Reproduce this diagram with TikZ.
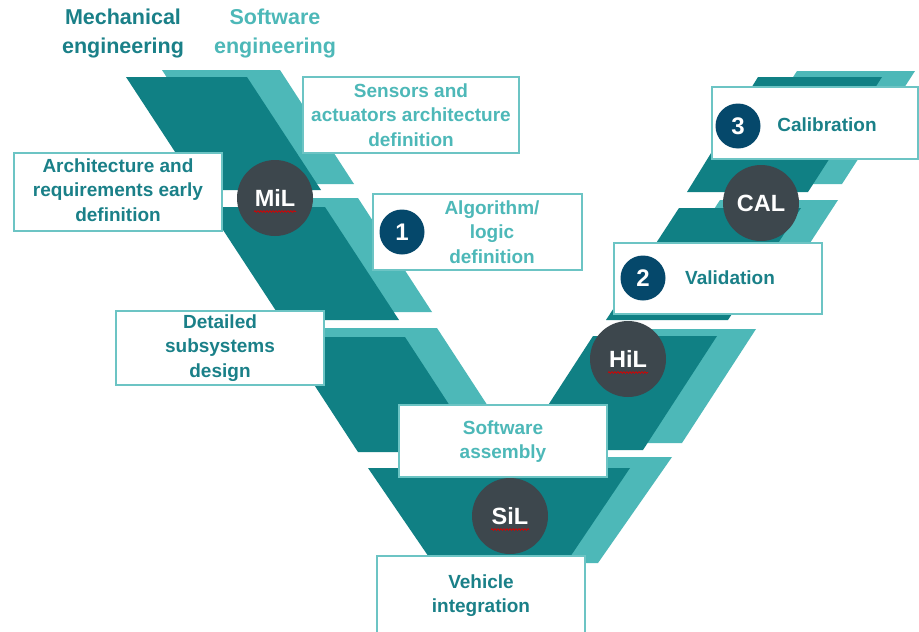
\documentclass[tikz,border=0pt]{standalone}
\usepackage{fontspec}
\setmainfont{Liberation Sans}
\usetikzlibrary{decorations.pathmorphing}
\definecolor{darkteal}{HTML}{108084}
\definecolor{lightteal}{HTML}{4DB8B8}
\definecolor{boxline}{HTML}{6CC4C4}
\definecolor{stagegray}{HTML}{3D474D}
\definecolor{navy}{HTML}{05486B}
\definecolor{darktext}{HTML}{1A8088}
\definecolor{lighttext}{HTML}{4DB8B8}
\begin{document}
\begin{tikzpicture}[x=1pt,y=-1pt,
  darkband/.style={fill=darkteal},
  lightband/.style={fill=lightteal},
  box/.style={draw=boxline, line width=1.3pt, fill=white, rectangle, inner sep=0pt},
  boxtext/.style={font=\bfseries\fontsize{19}{24.5}\selectfont, align=center, inner sep=0pt},
  headtext/.style={font=\bfseries\fontsize{21.5}{29}\selectfont, align=center, inner sep=0pt},
  stage/.style={circle, fill=stagegray, minimum size=76pt, inner sep=0pt, text=white, font=\bfseries\fontsize{23.5}{24}\selectfont},
  num/.style={circle, fill=navy, minimum size=45pt, inner sep=0pt, text=white, font=\bfseries\fontsize{24}{24}\selectfont},
  spell/.style={draw=red!85!black, line width=0.7pt, decorate, decoration={snake, amplitude=0.9pt, segment length=3pt}}
]
\useasboundingbox (0,0) rectangle (919,632);
\fill[white] (0,0) rectangle (919,632);

% ---- light bands (behind)
\fill[lightband] (162,70) -- (280,70) -- (354,184) -- (236,184) -- cycle;
\fill[lightband] (241,198) -- (358,198) -- (432,312) -- (315,312) -- cycle;
\fill[lightband] (318,328) -- (437,328) -- (512,443) -- (393,443) -- cycle;
\fill[lightband] (797,71) -- (915,71) -- (842,184) -- (724,184) -- cycle;
\fill[lightband] (720,200) -- (838,200) -- (765,312) -- (647,312) -- cycle;
\fill[lightband] (636,329) -- (756,329) -- (682,443) -- (562,443) -- cycle;
\fill[lightband] (400,457) -- (672,457) -- (598,563) -- (465,563) -- cycle;

% ---- dark bands (front)
\fill[darkband] (126,77) -- (247,77) -- (321,190) -- (200,190) -- cycle;
\fill[darkband] (208,207) -- (325,207) -- (399,320) -- (282,320) -- cycle;
\fill[darkband] (283,337) -- (405,337) -- (480,452) -- (358,452) -- cycle;
\fill[darkband] (758,77) -- (882,77) -- (808,192) -- (687,192) -- cycle;
\fill[darkband] (679,208) -- (801,208) -- (728,320) -- (606,320) -- cycle;
\fill[darkband] (593,336) -- (717,336) -- (643,450) -- (519,450) -- cycle;
\fill[darkband] (368,468) -- (630,468) -- (566,563) -- (433,563) -- cycle;

% ---- headers
\node[headtext, text=darktext] (mech) at (123,33) {Mechanical\\engineering};
\node[headtext, text=lighttext] (soft) at (275,33) {Software\\engineering};

% ---- boxes
\node[box, minimum width=216pt, minimum height=76pt] (sensbox) at (411,115) {};
\node[box, minimum width=208pt, minimum height=78pt] (archbox) at (118,192) {};
\node[box, minimum width=209pt, minimum height=76pt] (algobox) at (477.5,232) {};
\node[box, minimum width=208pt, minimum height=74pt] (detbox) at (220,348) {};
\node[box, minimum width=208pt, minimum height=72pt] (swbox) at (503,441) {};
\node[box, minimum width=208pt, minimum height=90pt] (vehbox) at (481,601) {};
\node[box, minimum width=208pt, minimum height=71pt] (valbox) at (718,278.5) {};
\node[box, minimum width=206pt, minimum height=72pt] (calbox) at (815,123) {};

% ---- box texts
\node[boxtext, text=lighttext] (senstext) at (411,115) {Sensors and\\actuators architecture\\definition};
\node[boxtext, text=darktext] (archtext) at (118,190) {Architecture and\\requirements early\\definition};
\node[boxtext, text=lighttext] (algotext) at (492,232) {Algorithm/\\logic\\definition};
\node[boxtext, text=darktext] (dettext) at (220,348) {Detailed\\subsystems\\design};
\node[boxtext, text=lighttext] (swtext) at (503,441.5) {Software\\assembly};
\node[boxtext, text=darktext] (vehtext) at (481,595.5) {Vehicle\\integration};
\node[boxtext, text=darktext] (valtext) at (730,278) {Validation};
\node[boxtext, text=darktext] (caltext) at (827,125) {Calibration};

% ---- number markers
\node[num] (n1) at (402,232) {1};
\node[num] (n2) at (643,278) {2};
\node[num] (n3) at (738,126) {3};

% ---- stage circles
\node[stage] (mil) at (275,198) {MiL};
\node[stage] (hil) at (628,359) {HiL};
\node[stage] (sil) at (510,516) {SiL};
\node[stage] (cal) at (761,203) {CAL};

\draw[spell] ([xshift=-21pt,yshift=-13.5pt]mil.center) -- ([xshift=21pt,yshift=-13.5pt]mil.center);
\draw[spell] ([xshift=-20pt,yshift=-13.5pt]hil.center) -- ([xshift=20pt,yshift=-13.5pt]hil.center);
\draw[spell] ([xshift=-19pt,yshift=-13.5pt]sil.center) -- ([xshift=19pt,yshift=-13.5pt]sil.center);
\end{tikzpicture}
\end{document}
